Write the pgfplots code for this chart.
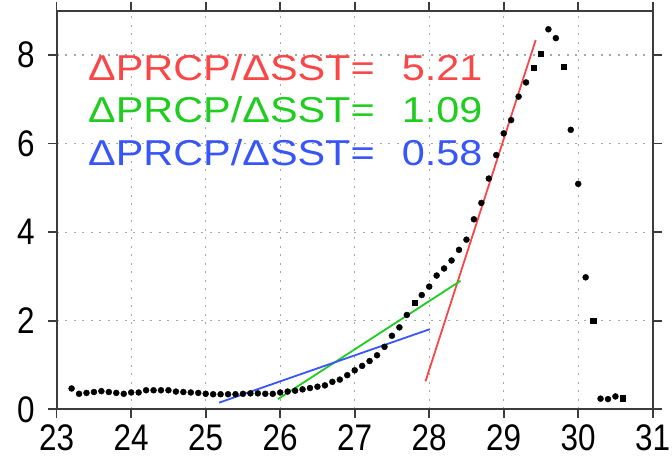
\documentclass[border=0pt]{standalone}
\usepackage{fontspec}
\setmainfont{Liberation Sans}
\newfontfamily\tickfont[FakeStretch=0.85]{Liberation Sans}
\newfontfamily\annfont[FakeStretch=1.15]{Liberation Sans}
\usepackage{pgfplots}
\pgfplotsset{compat=1.18}

\definecolor{slopered}{RGB}{250,70,70}
\definecolor{slopegreen}{RGB}{30,205,30}
\definecolor{slopeblue}{RGB}{55,85,250}
\definecolor{axisgray}{RGB}{60,60,60}

\begin{document}
\begin{tikzpicture}
\path[use as bounding box] (-56.7pt,-47.7pt) rectangle (615.3pt,409.3pt);
\begin{axis}[
  at={(0,0)}, anchor=south west,
  width=596pt, height=398.6pt, scale only axis,
  xmin=23, xmax=31, ymin=0, ymax=9,
  xtick={23,24,...,31}, ytick={0,2,4,6,8},
  tick align=outside,
  major tick length=9pt,
  every tick/.style={axisgray, line width=1.6pt},
  axis line style={axisgray, line width=1.8pt},
  grid=major,
  major grid style={gray!70, line width=1.1pt, dash pattern=on 2pt off 6.5pt},
  /pgf/number format/assume math mode=true,
  tick label style={font=\tickfont\fontsize{37}{37}\selectfont, text=black, inner sep=0pt},
  xticklabel style={anchor=north, yshift=-6pt},
  yticklabel style={anchor=east, xshift=-13pt},
  clip=false,
]
% binned precipitation vs SST
\addplot[only marks, mark=*, mark size=3pt, black] coordinates {
(23.2,0.47) (23.3,0.35) (23.4,0.37) (23.5,0.39) (23.6,0.41) (23.7,0.39)
(23.8,0.37) (23.9,0.35) (24.0,0.38) (24.1,0.38) (24.2,0.43) (24.3,0.43)
(24.4,0.43) (24.5,0.43) (24.6,0.40) (24.7,0.39) (24.8,0.38) (24.9,0.37)
(25.0,0.35) (25.1,0.34) (25.2,0.34) (25.3,0.34) (25.4,0.34) (25.5,0.35)
(25.6,0.36) (25.7,0.36) (25.8,0.35) (25.9,0.35) (26.0,0.38) (26.1,0.40)
(26.2,0.42) (26.3,0.45) (26.4,0.48) (26.5,0.51) (26.6,0.54) (26.7,0.62)
(26.8,0.67) (26.9,0.77) (27.0,0.88) (27.1,0.98) (27.2,1.09) (27.3,1.22)
(27.4,1.41) (27.5,1.66) (27.6,1.85) (27.7,2.13) (27.9,2.58)
(28.0,2.77) (28.1,3.02) (28.2,3.18) (28.3,3.36) (28.4,3.60) (28.5,3.83)
(28.6,4.29) (28.7,4.66) (28.8,5.21) (28.9,5.74) (29.0,6.23) (29.1,6.53)
(29.2,7.06) (29.3,7.38) (29.6,8.58) (29.7,8.38)
(29.9,6.31) (30.0,5.09) (30.1,2.98) (30.3,0.24) (30.4,0.23)
(30.5,0.29)
};
\addplot[only marks, mark=square*, mark size=2.6pt, black] coordinates {
(27.8,2.40) (29.4,7.71) (29.5,8.02) (29.8,7.74) (30.2,2.00) (30.6,0.25)
};
% fitted slopes
\addplot[slopered, line width=1.8pt] coordinates {(27.95,0.63) (29.43,8.34)};
\addplot[slopegreen, line width=1.8pt] coordinates {(25.97,0.23) (28.42,2.90)};
\addplot[slopeblue, line width=1.8pt] coordinates {(25.18,0.15) (28.01,1.81)};

\node[anchor=base west, inner sep=0pt, text=slopered, font=\annfont\fontsize{36}{36}\selectfont] at (axis cs:23.42,7.43) {ΔPRCP/ΔSST=};
\node[anchor=base west, inner sep=0pt, text=slopered, font=\annfont\fontsize{36}{36}\selectfont] at (axis cs:27.63,7.43) {5.21};
\node[anchor=base west, inner sep=0pt, text=slopegreen, font=\annfont\fontsize{36}{36}\selectfont] at (axis cs:23.42,6.48) {ΔPRCP/ΔSST=};
\node[anchor=base west, inner sep=0pt, text=slopegreen, font=\annfont\fontsize{36}{36}\selectfont] at (axis cs:27.63,6.48) {1.09};
\node[anchor=base west, inner sep=0pt, text=slopeblue, font=\annfont\fontsize{36}{36}\selectfont] at (axis cs:23.42,5.51) {ΔPRCP/ΔSST=};
\node[anchor=base west, inner sep=0pt, text=slopeblue, font=\annfont\fontsize{36}{36}\selectfont] at (axis cs:27.63,5.51) {0.58};
\end{axis}
\end{tikzpicture}
\end{document}
